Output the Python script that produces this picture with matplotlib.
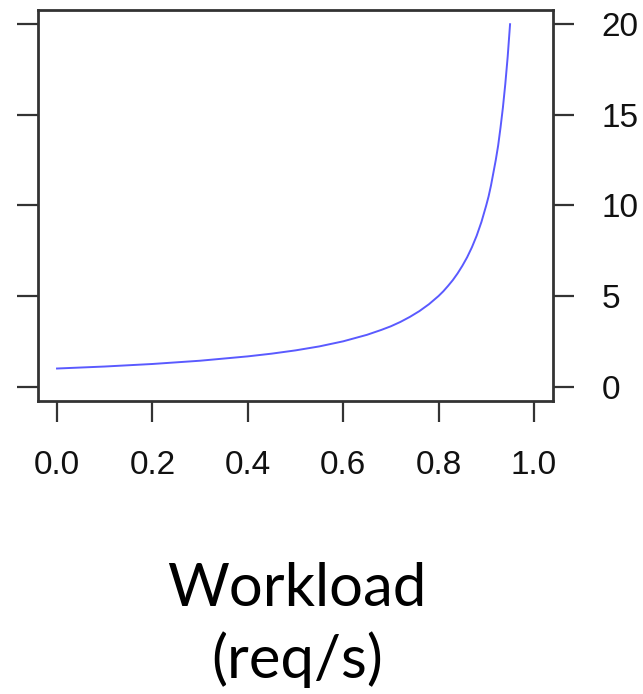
import matplotlib
matplotlib.use('Agg')
import matplotlib.pyplot as plt

# values
load = [0.0, 0.1, 0.2, 0.3, 0.4, 0.45, 0.5, 0.55, 0.6, 0.65, 0.68, 0.7,
        0.72, 0.74, 0.76, 0.78, 0.8, 0.81, 0.82, 0.83, 0.84, 0.85, 0.86,
        0.87, 0.88, 0.89, 0.9, 0.905, 0.91, 0.915, 0.92, 0.925, 0.93,
        0.935, 0.94, 0.945, 0.95]
resp = [1.0, 1.11, 1.25, 1.43, 1.67, 1.82, 2.0, 2.22, 2.5, 2.86, 3.13, 3.33,
        3.57, 3.85, 4.17, 4.55, 5.0, 5.26, 5.56, 5.88, 6.25, 6.67, 7.14,
        7.69, 8.33, 9.09, 10.0, 10.5, 11.1, 11.8, 12.5, 13.3, 14.3,
        15.4, 16.7, 18.2, 20.0]
xticks = [0.0, 0.2, 0.4, 0.6, 0.8, 1.0]
xticklabels = ['0.0', '0.2', '0.4', '0.6', '0.8', '1.0']
yticks = [0, 5, 10, 15, 20]
yticklabels = ['0', '5', '10', '15', '20']


def main():
    fig = plt.figure(figsize=(6.43, 6.94), dpi=100)
    ax = fig.add_axes([0.059, 0.422, 0.801, 0.564])
    ax.plot(load, resp, color='#5a5aff', lw=1.4)

    ax.set_xlim(-0.04, 1.04)
    ax.set_ylim(-0.8, 20.8)
    ax.set_xticks(xticks, xticklabels)
    ax.set_yticks(yticks, yticklabels)

    for s in ax.spines.values():
        s.set_linewidth(2.0)
        s.set_color('#333333')
    ax.tick_params(axis='x', direction='out', length=15, width=1.6,
                   color='#333333', pad=20, labelsize=24)
    ax.tick_params(axis='y', direction='out', length=15, width=1.6,
                   color='#333333', pad=20, labelsize=24,
                   left=True, right=True, labelleft=False, labelright=True)
    for lab in ax.get_xticklabels() + ax.get_yticklabels():
        lab.set_family('Liberation Sans')
        lab.set_color('#111111')

    fig.text(0.462, 0.099, 'Workload\n(req/s)', ha='center', va='center',
             fontsize=43, family='Lato', linespacing=1.33)

    fig.savefig('out.png', dpi=100)


if __name__ == "__main__":
    main()
